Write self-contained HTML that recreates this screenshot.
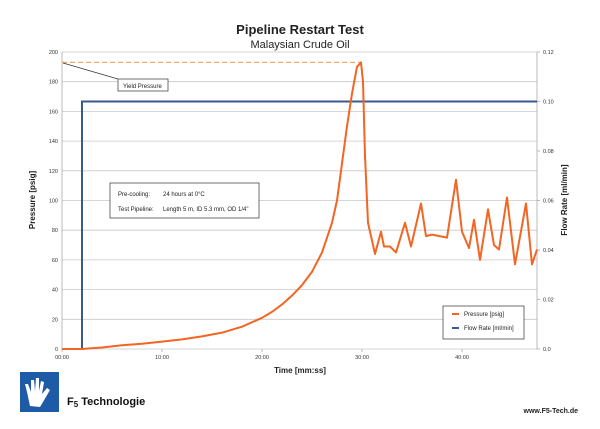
<!DOCTYPE html>
<html><head><meta charset="utf-8"><style>
body{margin:0;background:#fff;width:600px;height:424px;overflow:hidden;font-family:"Liberation Sans",sans-serif}
</style></head><body>
<svg id="c" width="600" height="424" xmlns="http://www.w3.org/2000/svg" font-family="Liberation Sans, sans-serif">
<text x="300" y="34" text-anchor="middle" font-size="13" font-weight="bold" fill="#222">Pipeline Restart Test</text>
<text x="300" y="48" text-anchor="middle" font-size="11" fill="#222">Malaysian Crude Oil</text>
<g id="grid"></g>
<g id="ticks"></g>
<g id="series"></g>
<text transform="translate(35,200) rotate(-90)" text-anchor="middle" font-size="8" font-weight="bold" fill="#222">Pressure  [psig]</text>
<text transform="translate(567,200) rotate(-90)" text-anchor="middle" font-size="8" font-weight="bold" fill="#222">Flow Rate  [ml/min]</text>
<text x="300" y="373" text-anchor="middle" font-size="8" font-weight="bold" fill="#222">Time  [mm:ss]</text>
<g>
<line x1="63" y1="63" x2="118" y2="79" stroke="#333" stroke-width="0.7"/>
<rect x="118" y="79" width="50" height="12" fill="#fff" stroke="#333" stroke-width="0.7"/>
<text x="123" y="88" font-size="6" fill="#222">Yield Pressure</text>
</g>
<g>
<rect x="110" y="183" width="149" height="35" fill="#fff" stroke="#333" stroke-width="0.7"/>
<text x="118" y="196" font-size="6" fill="#222">Pre-cooling:</text>
<text x="163" y="196" font-size="6" fill="#222">24 hours at 0°C</text>
<text x="118" y="211" font-size="6" fill="#222">Test Pipeline:</text>
<text x="163" y="211" font-size="6" fill="#222">Length 5 m, ID 5.3 mm, OD 1/4"</text>
</g>
<g>
<rect x="443" y="306" width="81" height="33" fill="#fff" stroke="#333" stroke-width="0.7"/>
<line x1="452" y1="314" x2="459" y2="314" stroke="#f26522" stroke-width="2"/>
<text x="464" y="316" font-size="6" fill="#222">Pressure  [psig]</text>
<line x1="452" y1="328" x2="459" y2="328" stroke="#3a5a8c" stroke-width="2"/>
<text x="464" y="330" font-size="6" fill="#222">Flow Rate  [ml/min]</text>
</g>
<g>
<rect x="20" y="372" width="39" height="40" fill="#1f5aa6"/>
<path d="M30 406 L27 392 L25 384 L28 384 L31 392 L31 380 L34 380 L35 391 L36 378 L39 378 L39 391 L41 381 L44 382 L42 394 L47 388 L50 390 L43 402 L40 407 Z" fill="#fff"/>
<text x="67" y="405" font-size="11" font-weight="bold" fill="#111">F<tspan font-size="8" dy="2">5</tspan><tspan dy="-2"> Technologie</tspan></text>
</g>
<text x="578" y="413" text-anchor="end" font-size="7" font-weight="bold" fill="#222">www.F5-Tech.de</text>
</svg>
<script>
const pressureTimes=[0,2,4,6,8,10,12,14,16,18,20,21,22,23,24,25,26,27,27.5,28,28.5,29,29.5,29.9,30.1,30.3,30.6,31.3,31.9,32.2,32.8,33.4,34.3,34.9,35.9,36.4,37,38.5,39.4,40,40.7,41.2,41.8,42.6,43.2,43.7,44.5,45.3,46.4,47,47.5];
const pressureValues=[0,0,1,2.5,3.5,5,6.5,8.5,11,15,21,25,30,36,43,52,65,85,100,125,150,172,190,193,180,130,85,64,79,69,69,65,85,69,98,76,77,75,114,79,68,87,60,94,70,67,102,57,98,57,67];
const flowTimes=[0,2,2,47.5];
const flowValues=[0,0,0.1,0.1];
const yieldPressure=193;
const yTicks=[0,20,40,60,80,100,120,140,160,180,200];
const y2Ticks=[0,0.02,0.04,0.06,0.08,0.1,0.12];
const y2Labels=["0.0","0.02","0.04","0.06","0.08","0.10","0.12"];
const xTicks=[0,10,20,30,40];
const xLabels=["00:00","10:00","20:00","30:00","40:00"];

const X0=62,X1=537,Y0=349,Y1=52,TMAX=47.5;
const sx=t=>X0+t/TMAX*(X1-X0);
const sy=p=>Y0-p/200*(Y0-Y1);
const sy2=f=>Y0-f/0.12*(Y0-Y1);
const NS="http://www.w3.org/2000/svg";
function mk(tag,attrs,parent){const e=document.createElementNS(NS,tag);for(const k in attrs)e.setAttribute(k,attrs[k]);parent.appendChild(e);return e;}
const grid=document.getElementById('grid'),ticks=document.getElementById('ticks'),series=document.getElementById('series');
yTicks.forEach(v=>{
  const l=mk('line',{x1:X0,x2:X1,y1:sy(v),y2:sy(v),stroke:'#c8c8c8','stroke-width':0.8},grid);
  
  
  const t=mk('text',{x:X0-4,y:sy(v)+2,'text-anchor':'end','font-size':5.5,fill:'#333'},ticks);
  t.textContent=v;
  
  
});
mk('line',{x1:X0,x2:X0,y1:Y1,y2:Y0,stroke:'#aaa','stroke-width':0.8},grid);
mk('line',{x1:X1,x2:X1,y1:Y1,y2:Y0,stroke:'#aaa','stroke-width':0.8},grid);
y2Ticks.forEach((v,i)=>{
  mk('line',{x1:X1,x2:X1+3,y1:sy2(v),y2:sy2(v),stroke:'#aaa','stroke-width':0.8},grid);
  const t=mk('text',{x:X1+6,y:sy2(v)+2,'font-size':5.5,fill:'#333'},ticks);
  t.textContent=y2Labels[i];
  
  
});
xTicks.forEach((v,i)=>{
  mk('line',{x1:sx(v),x2:sx(v),y1:Y0,y2:Y0+3,stroke:'#aaa','stroke-width':0.8},grid);
  const t=mk('text',{x:sx(v),y:Y0+10,'text-anchor':'middle','font-size':5.5,fill:'#333'},ticks);
  t.textContent=xLabels[i];
  
  
});
const yl=mk('line',{x1:X0,x2:sx(30),y1:sy(yieldPressure),y2:sy(yieldPressure),stroke:'#f7a86a','stroke-width':1.2,'stroke-dasharray':'5,3'},series);


const fl=mk('polyline',{points:flowTimes.map((t,i)=>sx(t)+','+sy2(flowValues[i])).join(' '),fill:'none',stroke:'#3a5a8c','stroke-width':2},series);


const pl=mk('polyline',{points:pressureTimes.map((t,i)=>sx(t)+','+sy(pressureValues[i])).join(' '),fill:'none',stroke:'#f26522','stroke-width':2,'stroke-linejoin':'round'},series);


</script>
</body></html>
